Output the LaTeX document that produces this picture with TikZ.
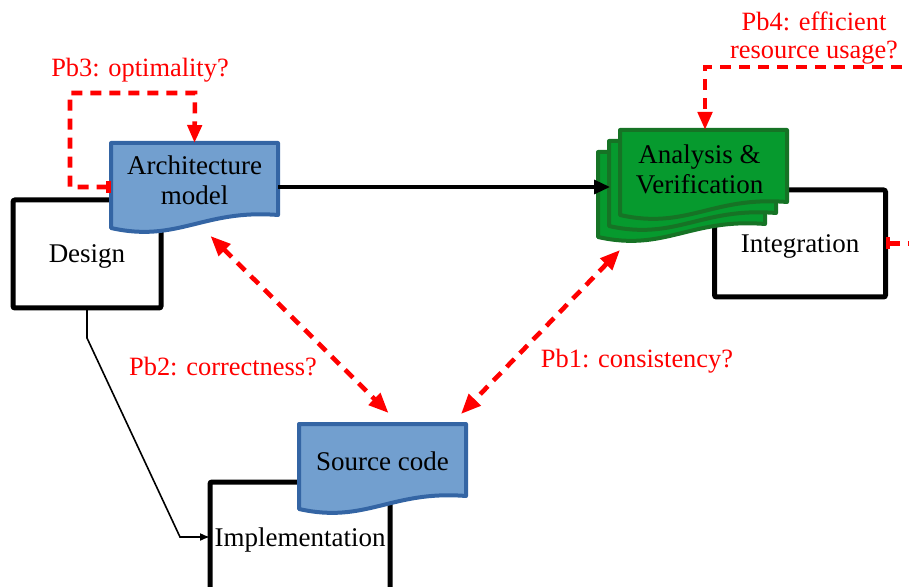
\documentclass[tikz,border=0pt]{standalone}
\usepackage{fontspec}
\setmainfont{Liberation Serif}
\usetikzlibrary{arrows.meta,calc}

\definecolor{docblue}{HTML}{729FCF}
\definecolor{docblueline}{HTML}{3465A4}
\definecolor{docgreen}{RGB}{6,154,46}
\definecolor{docgreenline}{RGB}{22,115,37}

%% document shape: top left corner at (#1,#2), 167 wide
\newcommand{\docshape}[4]{%
  \draw[#4, fill=#3, line width=2pt, line join=round]
    (#1,#2+85) -- (#1,#2) -- (#1+167,#2) -- (#1+167,#2+72)
    .. controls (#1+92,#2+66) and (#1+67,#2+100) .. (#1,#2+85) -- cycle;}

\begin{document}
\begin{tikzpicture}[x=0.5pt,y=-0.5pt,
  every node/.style={font=\fontsize{13.5pt}{15pt}\selectfont},
  phase/.style={draw, line width=2.5pt, rounded corners=1pt, inner sep=0pt, outer sep=0pt, text depth=0pt},
  doctext/.style={align=center, inner sep=0pt, outer sep=0pt, minimum width=83.5pt, minimum height=37pt},
  pblabel/.style={text=red, align=center, font=\fontsize{13.2pt}{14pt}\selectfont},
  pbline/.style={red, line width=2.3pt, dash pattern=on 5.5pt off 4pt},
  pbtip/.tip={Triangle[length=10pt,width=8pt]},
  flow/.style={line width=1.6pt, -{Triangle[length=8pt,width=7pt]}}]
  \useasboundingbox (0,0) rectangle (909,587);
  \clip (0,0) rectangle (909,587);

  %% phases
  \node (design) at (87,254) [phase, minimum width=74pt, minimum height=54pt] {Design};
  \node (integ) at (800,243.5) [phase, minimum width=85.5pt, minimum height=53.5pt] {Integration};
  \node (impl) at (300,537) [phase, minimum width=90pt, minimum height=55pt] {Implementation};

  %% artefacts
  \docshape{111}{143}{docblue}{docblueline}
  \node (arch) at (194.5,180) [doctext] {Architecture\\model};
  \docshape{598}{152}{docgreen}{docgreenline}
  \docshape{609}{141}{docgreen}{docgreenline}
  \docshape{620}{130}{docgreen}{docgreenline}
  \node (ana) at (699.5,169) [doctext] {Analysis \&\\Verification};
  \docshape{299}{424}{docblue}{docblueline}
  \node (src) at (382.5,461) [doctext] {Source code};

  %% flows
  \draw[flow] ($(arch.east)+(0,7)$) -- ($(ana.west)+(-6,18)$);
  \draw[line width=0.8pt, -{Latex[length=5pt,width=4pt]}]
    (design.south) -- ++(0,30) -- (180,537) -- (impl.west);

  %% problems
  \draw[pbline, {Bar[width=6pt]}-{Triangle[length=9pt,width=7pt]}]
    ($(arch.west)+(0,7)$) -- (70,187) -- (70,93) -- (195,93) -- (arch.north);
  \node (pb3) at (140,70) [pblabel] {Pb3: optimality?};

  \draw[pbline, {Bar[width=6pt]}-{Triangle[length=9pt,width=7pt]}]
    (integ.east) -- (940,243.5) -- (940,67) -- (705,67) -- ($(ana.north)+(5.5,-2)$);
  \node (pb4) at (814,38) [pblabel] {Pb4: efficient\\resource usage?};

  \draw[pbline, pbtip-pbtip] ($(arch.south)+(16,19)$) -- ($(src.north)+(6,-11)$);
  \node (pb2) at (223,367) [pblabel] {Pb2: correctness?};

  \draw[pbline, pbtip-pbtip] ($(ana.south west)+(4,44)$) -- ($(src.north east)+(-5,-10)$);
  \node (pb1) at (637,361) [pblabel] {Pb1: consistency?};

\end{tikzpicture}
\end{document}
